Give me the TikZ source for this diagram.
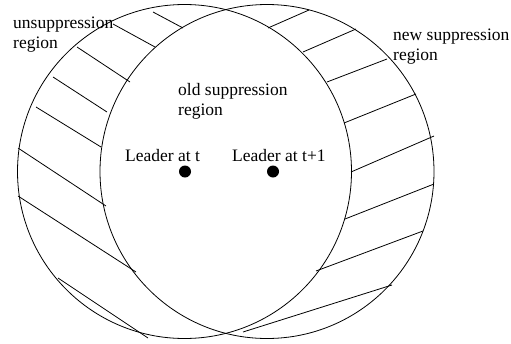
\documentclass[tikz,border=0pt]{standalone}
\usepackage{fontspec}
\setmainfont{Liberation Serif}
\begin{document}
\begin{tikzpicture}[x=1pt,y=-1pt,
  lbl/.style={anchor=base west,inner sep=0pt,font=\fontsize{17.5}{20}\selectfont},
  region/.style={draw=black,line width=0.8pt},
  hatch/.style={draw=black,line width=0.8pt},
  leader/.style={circle,fill=black,inner sep=0pt,minimum size=12pt}]
\useasboundingbox (0,0) rectangle (511,343);
% regions
\draw[region] (184.5,171.5) circle[radius=167pt];
\draw[region] (267,171.5) circle[radius=167pt];
% hatching of the unsuppression region
\draw[hatch] (153,12) -- (183,28);
\draw[hatch] (113,24) -- (155,47);
\draw[hatch] (77,47) -- (130,82);
\draw[hatch] (53,77) -- (107,112);
\draw[hatch] (36,107) -- (101,147);
\draw[hatch] (18,148) -- (106,206);
\draw[hatch] (18,196) -- (136,272);
\draw[hatch] (58,278) -- (148,338);
% hatching of the new suppression region
\draw[hatch] (268,28) -- (309,10);
\draw[hatch] (303,52) -- (356,29);
\draw[hatch] (327,82) -- (387,59);
\draw[hatch] (344,123) -- (416,94);
\draw[hatch] (351,172) -- (434,136);
\draw[hatch] (345,219) -- (434,184);
\draw[hatch] (316,271) -- (423,231);
\draw[hatch] (243,332) -- (392,285);
% leaders
\node[leader] (lt) at (185,171.5) {};
\node[leader] (lt1) at (273,171.5) {};
% labels
\node[lbl] (un1) at (13,28) {unsuppression};
\node[lbl] (un2) at (13,48) {region};
\node[lbl] (old1) at (178,95) {old suppression};
\node[lbl] (old2) at (178,115) {region};
\node[lbl] (new1) at (393,40) {new suppression};
\node[lbl] (new2) at (393,60) {region};
\node[lbl] (ltl) at (125,161) {Leader at t};
\node[lbl] (lt1l) at (232,161) {Leader at t+1};
\end{tikzpicture}
\end{document}
